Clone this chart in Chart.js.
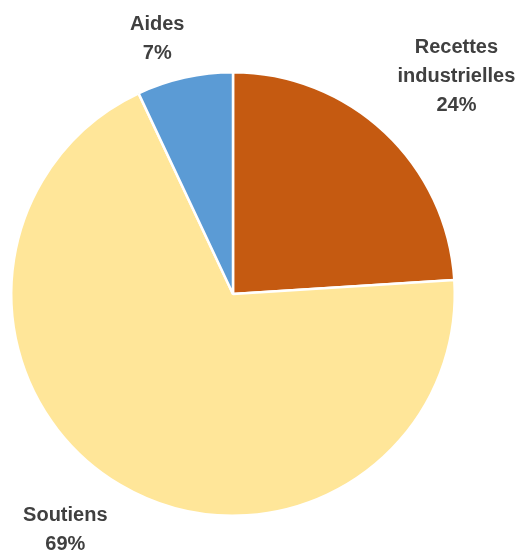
<!DOCTYPE html>
<html>
<head>
<meta charset="utf-8">
<script src="https://cdn.jsdelivr.net/npm/chart.js@4.4.0/dist/chart.umd.min.js"></script>
<style>
  html, body { margin: 0; padding: 0; background: #fff; }
  #wrap { width: 521px; height: 552px; }
</style>
</head>
<body>
<div id="wrap"><canvas id="mycanvas"></canvas></div>
<script>
var labels = ['Recettes industrielles', 'Soutiens', 'Aides'];
var labelLines = [['Recettes', 'industrielles', '24%'], ['Soutiens', '69%'], ['Aides', '7%']];
var values = [24, 69, 7];
var colors = ['#C55A11', '#FFE699', '#5B9BD5'];

// small nudges for the outside labels (x, y)
var labelNudge = [[10, 10], [-22, -10], [-16, 12]];

var outsideLabels = {
	id: 'outsideLabels',
	afterDatasetsDraw: function(chart){
		var ctx = chart.ctx;
		var meta = chart.getDatasetMeta(0);
		var lineH = 29;
		ctx.save();
		ctx.font = 'bold 20px "Liberation Sans", Arial, sans-serif';
		ctx.fillStyle = '#404040';
		ctx.textAlign = 'center';
		ctx.textBaseline = 'middle';
		meta.data.forEach(function(arc, i){
			var p = arc.getProps(['x', 'y', 'startAngle', 'endAngle', 'outerRadius'], true);
			var mid = (p.startAngle + p.endAngle) / 2;
			var ux = Math.cos(mid), uy = Math.sin(mid);
			var lines = labelLines[i];
			var w = 0;
			lines.forEach(function(t){ w = Math.max(w, ctx.measureText(t).width); });
			var h = lines.length * lineH;
			var dist = p.outerRadius + 18 + Math.abs(ux) * w / 2 + Math.abs(uy) * h / 2;
			var cx = p.x + ux * dist + labelNudge[i][0];
			var cy = p.y + uy * dist + labelNudge[i][1];
			var top = cy - h / 2 + lineH / 2;
			lines.forEach(function(t, k){
				ctx.fillText(t, cx, top + k * lineH);
			});
		});
		ctx.restore();
	}
};

var ctx = document.getElementById('mycanvas');
var pieChart = new Chart(ctx, {
	type: 'pie',
	data: {
		labels: labels,
		datasets: [{
			data: values,
			backgroundColor: colors,
			borderColor: '#ffffff',
			borderWidth: 2.5
		}]
	},
	options: {
		responsive: true,
		maintainAspectRatio: false,
		animation: false,
		layout: { padding: { top: 71, bottom: 35, left: 10, right: 65 } },
		plugins: {
			legend: { display: false },
			tooltip: { enabled: false }
		}
	},
	plugins: [outsideLabels]
});
</script>
</body>
</html>
